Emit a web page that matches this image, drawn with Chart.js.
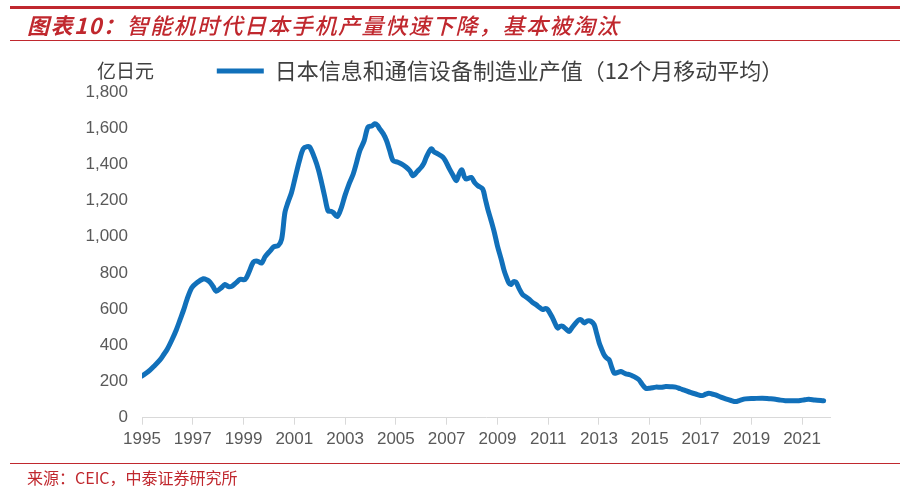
<!DOCTYPE html>
<html lang="zh">
<head>
  <meta charset="UTF-8">
  <title>日本信息和通信设备制造业产值</title>
  <script src="https://cdn.jsdelivr.net/npm/chart.js"></script>
  <style>
    body { margin: 0; background: #fff; }
    #wrap { position: relative; width: 900px; height: 491px; overflow: hidden; }
    #myChart { position: absolute; left: 0; top: 0; }
    .redline { position: absolute; left: 10px; right: 0; background: #c0282e; }
    #title { position: absolute; left: 27px; top: 8px; font-family: "Noto Sans CJK SC", sans-serif;
      font-size: 22px; font-style: italic; font-weight: 500; color: #c0282e; letter-spacing: 1.5px; white-space: nowrap; }
    #title b { font-weight: bold; }
    #unit { position: absolute; left: 97px; top: 56px; font-family: "Noto Sans CJK SC", sans-serif;
      font-size: 19px; color: #404040; }
    #source { position: absolute; left: 27px; top: 465px; font-family: "Noto Sans CJK SC", sans-serif;
      font-size: 16px; color: #c0282e; white-space: nowrap; }
  </style>
</head>
<body>
  <div id="wrap">
    <canvas id="myChart" width="900" height="491"></canvas>
    <div class="redline" style="top:6px;height:3px"></div>
    <div id="title"><b>图表10：</b>智能机时代日本手机产量快速下降，基本被淘汰</div>
    <div class="redline" style="top:40px;height:1px"></div>
    <div id="unit">亿日元</div>
    <div class="redline" style="top:463px;height:1px"></div>
    <div id="source">来源：CEIC，中泰证券研究所</div>
  </div>

  <script>
    // 12-month moving average, 100 million yen
    const years = [
      1995.0, 1995.25, 1995.46, 1995.7, 1995.85, 1996.0, 1996.18, 1996.35, 1996.5, 1996.65,
      1996.77, 1996.96, 1997.16, 1997.42, 1997.55, 1997.68, 1997.8, 1997.92, 1998.1, 1998.27,
      1998.4, 1998.54, 1998.7, 1998.86, 1999.06, 1999.2, 1999.39, 1999.55, 1999.71, 1999.85,
      2000.04, 2000.2, 2000.36, 2000.5, 2000.63, 2000.75, 2000.89, 2001.02, 2001.2, 2001.35,
      2001.5, 2001.61, 2001.81, 2001.95, 2002.07, 2002.2, 2002.33, 2002.45, 2002.53, 2002.69,
      2002.85, 2002.99, 2003.15, 2003.32, 2003.45, 2003.58, 2003.75, 2003.9, 2004.05, 2004.17,
      2004.28, 2004.36, 2004.5, 2004.63, 2004.75, 2004.89, 2005.08, 2005.25, 2005.41, 2005.55,
      2005.67, 2005.85, 2006.0, 2006.1, 2006.2, 2006.39, 2006.5, 2006.65, 2006.85, 2006.95,
      2007.11, 2007.25, 2007.38, 2007.5, 2007.6, 2007.7, 2007.77, 2007.97, 2008.1, 2008.23,
      2008.42, 2008.52, 2008.62, 2008.75, 2008.88, 2009.0, 2009.15, 2009.25, 2009.34, 2009.45,
      2009.54, 2009.63, 2009.73, 2009.85, 2009.99, 2010.1, 2010.26, 2010.4, 2010.52, 2010.65,
      2010.78, 2010.9, 2010.98, 2011.17, 2011.37, 2011.47, 2011.57, 2011.7, 2011.83, 2011.95,
      2012.09, 2012.2, 2012.29, 2012.42, 2012.55, 2012.68, 2012.81, 2012.9, 2013.01, 2013.1,
      2013.2, 2013.3, 2013.4, 2013.5, 2013.6, 2013.73, 2013.86, 2014.06, 2014.2, 2014.32,
      2014.45, 2014.58, 2014.7, 2014.84, 2015.0, 2015.24, 2015.45, 2015.63, 2015.85, 2016.02,
      2016.2, 2016.41, 2016.6, 2016.81, 2017.07, 2017.2, 2017.33, 2017.45, 2017.59, 2017.8,
      2017.99, 2018.2, 2018.38, 2018.55, 2018.77, 2019.1, 2019.43, 2019.7, 2019.95, 2020.15,
      2020.34, 2020.6, 2020.87, 2021.1, 2021.26, 2021.5, 2021.85
    ];
    const values = [
      231, 255, 283, 318, 348, 380, 431, 485, 542, 600,
      653, 718, 746, 768, 762, 749, 725, 699, 715, 736,
      725, 727, 745, 764, 764, 800, 860, 865, 855, 890,
      921, 945, 950, 986, 1134, 1190, 1245, 1319, 1420, 1486,
      1498, 1495, 1430, 1370, 1301, 1220, 1143, 1140, 1134, 1112,
      1160, 1226, 1290, 1347, 1410, 1476, 1530, 1606, 1612, 1624,
      1615, 1597, 1570, 1532, 1480, 1421, 1412, 1400, 1384, 1365,
      1337, 1362, 1384, 1405, 1440, 1486, 1470, 1458, 1440, 1420,
      1375, 1340, 1310, 1350, 1370, 1330, 1319, 1328, 1300, 1282,
      1264, 1210, 1153, 1090, 1023, 950, 875, 820, 782, 745,
      736, 752, 749, 715, 681, 670, 653, 635, 625, 610,
      598, 604, 598, 552, 496, 505, 505, 490, 477, 500,
      524, 540, 542, 524, 535, 533, 514, 470, 413, 380,
      348, 330, 320, 280, 246, 250, 255, 242, 238, 231,
      222, 209, 185, 163, 163, 169, 168, 172, 171, 169,
      160, 150, 140, 131, 122, 130, 135, 131, 126, 114,
      104, 95, 89, 96, 104, 106, 108, 105, 102, 97,
      94, 93, 94, 99, 102, 98, 94
    ];
    const yearTicks = [1995, 1997, 1999, 2001, 2003, 2005, 2007, 2009, 2011, 2013, 2015, 2017, 2019, 2021];
    const seriesName = '日本信息和通信设备制造业产值（12个月移动平均）';

    const lineColor = '#1170ba';
    const axisFont = { family: '"Liberation Sans Narrow", "Liberation Sans", sans-serif', size: 17 };

    const points = years.map((x, i) => ({ x: x, y: values[i] }));

    // nudge the legend a little to the right, like the original
    const legendShift = {
      id: 'legendShift',
      afterLayout: (chart) => {
        if (chart.legend) { chart.legend.left += 15; chart.legend.right += 15; }
      }
    };

    const ctx = document.getElementById('myChart').getContext('2d');
    const myChart = new Chart(ctx, {
      type: 'line',
      data: {
        datasets: [{
          label: seriesName,
          data: points,
          borderColor: lineColor,
          backgroundColor: lineColor,
          borderWidth: 5,
          pointRadius: 0,
          tension: 0.3,
          borderCapStyle: 'round',
          borderJoinStyle: 'round',
          fill: false
        }]
      },
      options: {
        responsive: false,
        animation: false,
        layout: { padding: { left: 70, right: 0, top: 49, bottom: 0 } },
        plugins: {
          tooltip: { enabled: false },
          legend: {
            display: true,
            position: 'top',
            align: 'center',
            labels: {
              boxWidth: 47,
              boxHeight: 5,
              padding: 11,
              color: '#404040',
              font: { family: '"Noto Sans CJK SC", sans-serif', size: 22 },
              generateLabels: (chart) => {
                const items = Chart.defaults.plugins.legend.labels.generateLabels(chart);
                items.forEach(it => { it.lineWidth = 0; it.fillStyle = lineColor; });
                return items;
              }
            }
          }
        },
        scales: {
          x: {
            type: 'linear',
            min: 1995,
            max: 2022.1,
            afterBuildTicks: (scale) => { scale.ticks = yearTicks.map(v => ({ value: v })); },
            afterFit: (scale) => { scale.height = 73.3; },
            grid: { display: true, drawOnChartArea: false, drawTicks: true, tickLength: 7, color: '#d9d9d9' },
            border: { display: true, color: '#d9d9d9', width: 1 },
            ticks: {
              autoSkip: false,
              maxRotation: 0,
              padding: 4,
              color: '#595959',
              font: axisFont,
              callback: (v) => String(v)
            }
          },
          y: {
            min: 0,
            max: 1800,
            afterFit: (scale) => { scale.width = 72; },
            grid: { display: false, drawTicks: false },
            border: { display: false },
            ticks: {
              stepSize: 200,
              padding: 14,
              color: '#595959',
              font: axisFont,
              callback: (v) => v.toLocaleString('en-US')
            }
          },
          yR: {
            type: 'linear',
            position: 'right',
            display: true,
            afterFit: (scale) => { scale.width = 70; },
            grid: { display: false, drawTicks: false },
            border: { display: false },
            ticks: { display: false }
          }
        }
      },
      plugins: [legendShift]
    });
  </script>
</body>
</html>
